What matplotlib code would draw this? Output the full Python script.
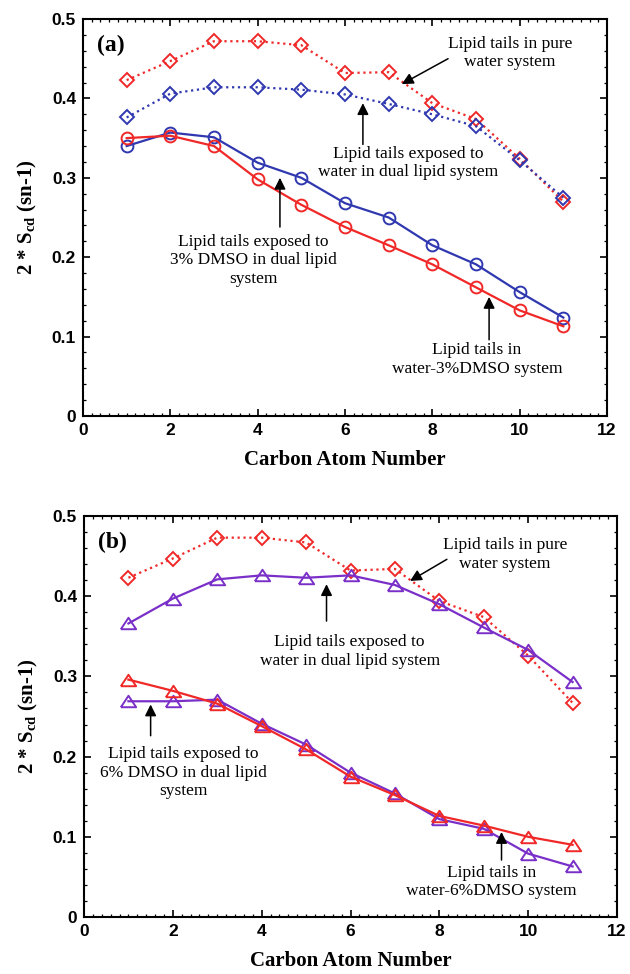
import numpy as np
import matplotlib
matplotlib.use("Agg")
import matplotlib.pyplot as plt
import matplotlib.ticker as mticker

# =====================================================
# DADOS
# =====================================================

carbono = np.arange(1, 12)

# painel (a)
agua_pura_a = [0.423, 0.447, 0.472, 0.472, 0.467, 0.432, 0.433, 0.394, 0.374, 0.324, 0.270]
agua_dupla_a = [0.376, 0.406, 0.414, 0.414, 0.411, 0.405, 0.393, 0.380, 0.365, 0.322, 0.275]
dmso3_duplo = [0.340, 0.357, 0.351, 0.319, 0.300, 0.268, 0.250, 0.215, 0.191, 0.156, 0.124]
dmso3_agua = [0.350, 0.353, 0.340, 0.298, 0.266, 0.238, 0.215, 0.191, 0.162, 0.133, 0.113]

# painel (b)
agua_pura_b = [0.423, 0.447, 0.473, 0.473, 0.467, 0.432, 0.434, 0.394, 0.374, 0.326, 0.267]
agua_dupla_b = [0.366, 0.397, 0.421, 0.426, 0.423, 0.426, 0.414, 0.390, 0.361, 0.333, 0.293]
dmso6_duplo = [0.269, 0.269, 0.271, 0.241, 0.215, 0.180, 0.154, 0.122, 0.110, 0.079, 0.063]
dmso6_agua = [0.296, 0.282, 0.266, 0.238, 0.209, 0.175, 0.152, 0.126, 0.114, 0.100, 0.090]

vermelho = "#f02828"
azul = "#3038b0"
roxo = "#7a30c8"

tri = [(-1.0, -0.75), (1.0, -0.75), (0.0, 0.75), (-1.0, -0.75)]

serif = ["Liberation Serif", "DejaVu Serif"]
sans = ["Liberation Sans", "DejaVu Sans"]

# =====================================================
# FIGURA
# =====================================================

fig = plt.figure(figsize=(6.3, 9.74), dpi=100)

ax1 = fig.add_axes([83 / 630, 1 - 416 / 974, 524 / 630, 397 / 974])
ax2 = fig.add_axes([84 / 630, 1 - 917 / 974, 533 / 630, 401 / 974])


def estilo(ax, letra):
    ax.set_xlim(0, 12)
    ax.set_ylim(0, 0.5)
    ax.xaxis.set_major_locator(mticker.MultipleLocator(2))
    ax.xaxis.set_minor_locator(mticker.MultipleLocator(0.2))
    ax.yaxis.set_major_locator(mticker.MultipleLocator(0.1))
    ax.yaxis.set_minor_locator(mticker.MultipleLocator(0.02))
    ax.yaxis.set_major_formatter(
        mticker.FuncFormatter(lambda v, p: "0" if abs(v) < 1e-9 else f"{v:.1f}")
    )
    ax.tick_params(which="both", direction="in", top=True, right=True)
    ax.tick_params(which="major", length=5, width=1.2, pad=5)
    ax.tick_params(which="minor", length=2.5, width=0.9)
    for s in ax.spines.values():
        s.set_linewidth(1.5)
    for lb in ax.get_xticklabels() + ax.get_yticklabels():
        lb.set_fontfamily(sans)
        lb.set_fontweight("bold")
        lb.set_fontsize(12.5)
    ax.set_xlabel("Carbon Atom Number", fontfamily=serif, fontweight="bold",
                  fontsize=15, labelpad=9)
    ax.set_ylabel(r"2 * S$_{\mathregular{cd}}$ (sn-1)", fontfamily=serif,
                  fontweight="bold", fontsize=15, labelpad=9)
    ax.text(0.32, 0.467, letra, fontfamily=serif, fontweight="bold",
            fontsize=17, va="center", ha="left")


def nota(ax, texto, xy, xytext, pos_txt):
    ax.annotate("", xy=xy, xytext=xytext,
                arrowprops=dict(arrowstyle="-|>", color="black", lw=1.1,
                                mutation_scale=17, shrinkA=0, shrinkB=0))
    ax.text(pos_txt[0], pos_txt[1], texto, fontfamily=serif, fontsize=12.5,
            ha="center", va="center", linespacing=1.2)


# =====================================================
# PAINEL (a)
# =====================================================

ax1.plot(carbono, agua_pura_a, ls=":", lw=1.6, color=vermelho, marker="D",
         ms=7.5, mfc="none", mew=1.4)
ax1.plot(carbono, agua_dupla_a, ls=":", lw=1.6, color=azul, marker="D",
         ms=7.5, mfc="none", mew=1.4)
ax1.plot(carbono, dmso3_duplo, ls="-", lw=1.6, color=azul, marker="o",
         ms=8.5, mfc="none", mew=1.4)
ax1.plot(carbono, dmso3_agua, ls="-", lw=1.6, color=vermelho, marker="o",
         ms=8.5, mfc="none", mew=1.4)

estilo(ax1, "(a)")

nota(ax1, "Lipid tails in pure\nwater system", (7.30, 0.418), (8.36, 0.450), (9.78, 0.457))
nota(ax1, "Lipid tails exposed to\nwater in dual lipid system", (6.41, 0.394), (6.41, 0.342), (7.45, 0.319))
nota(ax1, "Lipid tails exposed to\n3% DMSO in dual lipid\nsystem", (4.51, 0.300), (4.51, 0.238), (3.90, 0.196))
nota(ax1, "Lipid tails in\nwater-3%DMSO system", (9.30, 0.150), (9.30, 0.096), (9.02, 0.071))

# =====================================================
# PAINEL (b)
# =====================================================

ax2.plot(carbono, agua_pura_b, ls=":", lw=1.6, color=vermelho, marker="D",
         ms=7.5, mfc="none", mew=1.4)
ax2.plot(carbono, agua_dupla_b, ls="-", lw=1.6, color=roxo, marker=tri,
         ms=11, mfc="none", mew=1.4)
ax2.plot(carbono, dmso6_duplo, ls="-", lw=1.6, color=roxo, marker=tri,
         ms=11, mfc="none", mew=1.4)
ax2.plot(carbono, dmso6_agua, ls="-", lw=1.6, color=vermelho, marker=tri,
         ms=11, mfc="none", mew=1.4)

estilo(ax2, "(b)")

nota(ax2, "Lipid tails in pure\nwater system", (7.34, 0.419), (8.17, 0.446), (9.48, 0.452))
nota(ax2, "Lipid tails exposed to\nwater in dual lipid system", (5.46, 0.415), (5.46, 0.369), (5.98, 0.331))
nota(ax2, "Lipid tails exposed to\n6% DMSO in dual lipid\nsystem", (1.50, 0.265), (1.50, 0.226), (2.24, 0.180))
nota(ax2, "Lipid tails in\nwater-6%DMSO system", (9.40, 0.106), (9.40, 0.071), (9.18, 0.0435))

plt.savefig("out.png", dpi=100)
plt.close(fig)
